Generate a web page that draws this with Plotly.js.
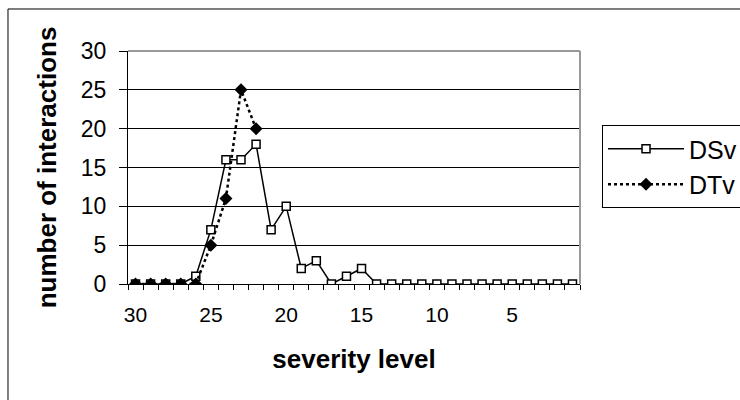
<!DOCTYPE html>
<html>
<head>
<meta charset="utf-8">
<script src="https://cdn.plot.ly/plotly-3.0.1.min.js"></script>
<style>
html,body{margin:0;padding:0;background:#fff;}
#chart{width:740px;height:400px;}
</style>
</head>
<body>
<div id="chart"></div>
<script>
// severity levels (categories), shown high to low
const severity = [30,29,28,27,26,25,24,23,22,21,20,19,18,17,16,15,14,13,12,11,10,9,8,7,6,5,4,3,2,1];
const dsv = [0,0,0,0,1,7,16,16,18,7,10,2,3,0,1,2,0,0,0,0,0,0,0,0,0,0,0,0,0,0];
const dtv = [0,0,0,0,0,5,11,25,20,null,null,null,null,null,null,null,null,null,null,null,null,null,null,null,null,null,null,null,null,null];
const xTickLabels = [30,25,20,15,10,5];
const yTicks = [0,5,10,15,20,25,30];
const seriesNames = ['DSv','DTv'];

const FONT = 'Arial, "Liberation Sans", sans-serif';

const traces = [
  {
    x: severity, y: dsv, name: seriesNames[0], type: 'scatter', mode: 'lines+markers',
    line: {color: '#000', width: 1.5},
    marker: {symbol: 'square', size: 8, color: '#fff', line: {color: '#000', width: 1.5}}
  },
  {
    x: severity, y: dtv, name: seriesNames[1], type: 'scatter', mode: 'lines+markers',
    connectgaps: false,
    line: {color: '#000', width: 2.5, dash: 'dot'},
    marker: {symbol: 'diamond', size: 10, color: '#000', line: {width: 0}}
  }
];

const layout = {
  width: 740, height: 400,
  margin: {l: 128, r: 160, t: 51, b: 116, pad: 0, autoexpand: false},
  paper_bgcolor: '#fff', plot_bgcolor: '#fff',
  font: {family: FONT, size: 22, color: '#000'},
  showlegend: true,
  legend: {
    x: 1.0487, y: 0.682, xanchor: 'left', yanchor: 'top',
    bordercolor: '#000', borderwidth: 1, bgcolor: '#fff',
    font: {family: FONT, size: 25, color: '#000'},
    itemwidth: 76
  },
  xaxis: {
    range: [30.5, 0.5], tickmode: 'array', tickvals: xTickLabels, ticktext: xTickLabels.map(String),
    ticks: '', showgrid: false, zeroline: false,
    showline: true, linecolor: '#000', linewidth: 1,
    tickfont: {family: FONT, size: 21, color: '#000'},
    ticklabelstandoff: 12,
    minor: {tick0: 0.5, dtick: 1, ticks: 'outside', ticklen: 5, tickcolor: '#000', tickwidth: 1, showgrid: false},
    title: {text: '<b>severity level</b>', font: {family: FONT, size: 26, color: '#000'}, standoff: 24}
  },
  yaxis: {
    range: [0, 30], tickmode: 'array', tickvals: yTicks,
    ticks: 'outside', ticklen: 8, tickcolor: '#000', tickwidth: 1,
    showgrid: true, gridcolor: '#000', gridwidth: 1,
    zeroline: false, showline: true, linecolor: '#000', linewidth: 1,
    tickfont: {family: FONT, size: 23, color: '#000'},
    ticklabelstandoff: 8,
    title: {text: '<b>number of interactions</b>', font: {family: FONT, size: 26, color: '#000'}, standoff: 16}
  },
  shapes: [
    {type: 'line', xref: 'paper', yref: 'paper', x0: 0, x1: 1, y0: 1, y1: 1, line: {color: '#999', width: 2}, layer: 'above'},
    {type: 'line', xref: 'paper', yref: 'paper', x0: 1, x1: 1, y0: 0, y1: 1, line: {color: '#999', width: 2}, layer: 'above'},
    {type: 'rect', xref: 'paper', yref: 'paper', x0: -0.2655, x1: 2, y0: -2, y1: 1.1803, line: {color: '#000', width: 1}, fillcolor: 'rgba(0,0,0,0)', layer: 'below'}
  ]
};

Plotly.newPlot('chart', traces, layout, {staticPlot: true, displayModeBar: false});
</script>
</body>
</html>
